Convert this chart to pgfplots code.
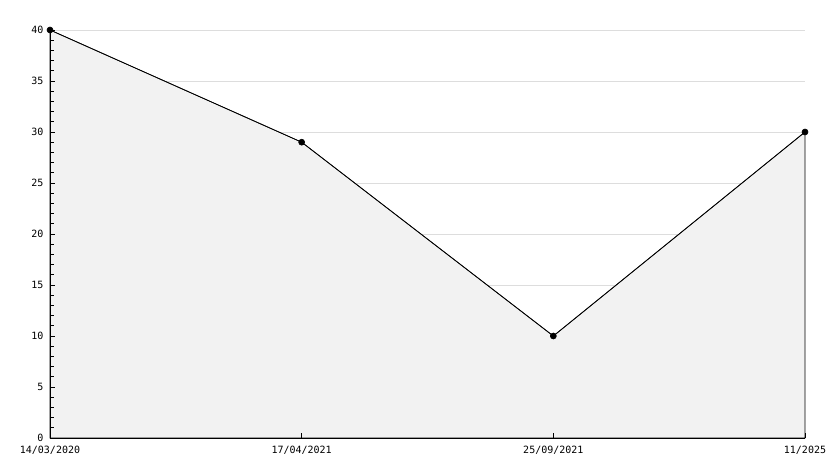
\documentclass[border=0pt]{standalone}
\usepackage{pgfplots}
\pgfplotsset{compat=1.18}
\usepackage{fontspec}
\setmainfont{DejaVu Sans Mono}
\definecolor{areafill}{HTML}{F2F2F2}
\definecolor{gridc}{HTML}{DDDDDD}
\begin{document}
\begin{tikzpicture}
\path[use as bounding box] (-50pt,-30pt) rectangle (784pt,438pt);
\begin{axis}[
  axis on top, clip=false,
  at={(0,0)}, anchor=south west,
  scale only axis, width=755pt, height=408pt,
  xmin=0, xmax=3, ymin=0, ymax=40,
  axis x line*=bottom, axis y line*=left,
  xtick={0,1,2,3},
  xticklabels={14/03/2020,17/04/2021,25/09/2021,11/2025},
  ytick={0,5,...,40},
  minor y tick num=4,
  tick align=inside,
  major tick length=5pt, minor tick length=3.5pt,
  tick style={black, line width=0.8pt},
  axis line style={line width=1pt, -},
  tick label style={font=\fontsize{10}{11}\selectfont},
  /pgf/number format/assume math mode=true,
  xticklabel style={yshift=-5pt},
  yticklabel style={xshift=-3pt},
]
\foreach \g in {5,10,...,40} {
  \edef\tmp{\noexpand\addplot[gridc, line width=0.8pt, forget plot] coordinates {(0,\g) (3,\g)};}
  \tmp
}
\addplot[draw=black, line width=0.8pt, fill=areafill, mark=none]
  coordinates {(0,40) (1,29) (2,10) (3,30)} \closedcycle;
\addplot[draw=black, line width=0.6pt, mark=*, mark size=3pt, mark options={fill=black}]
  coordinates {(0,40) (1,29) (2,10) (3,30)};
\end{axis}
\end{tikzpicture}
\end{document}
